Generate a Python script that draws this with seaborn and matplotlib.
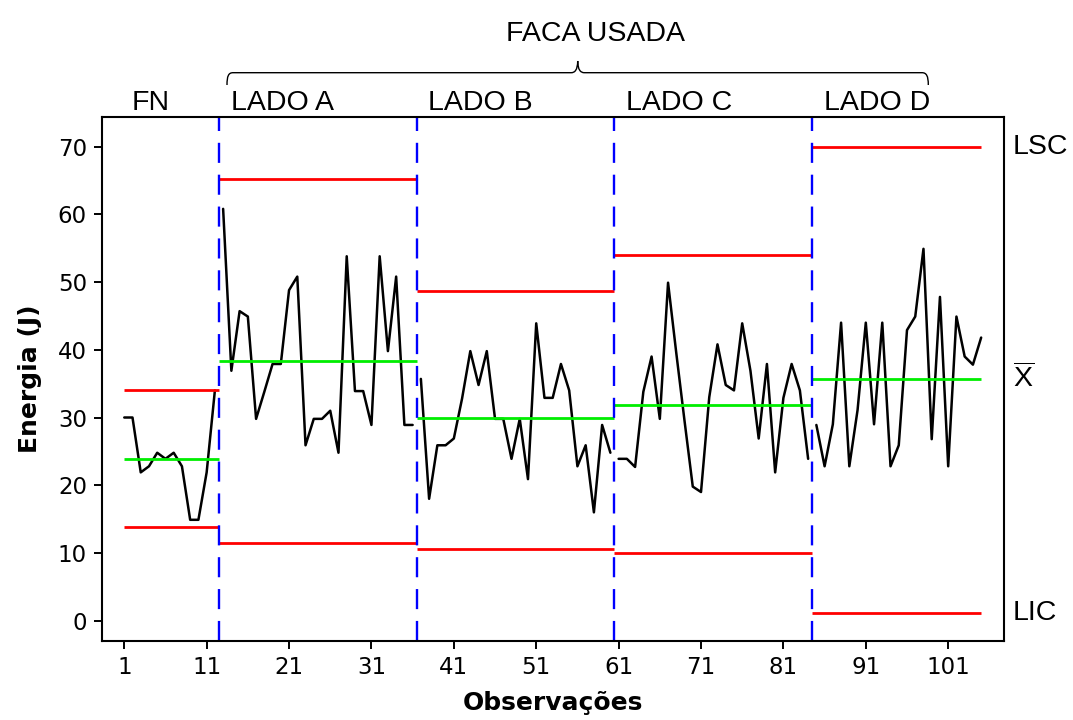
import numpy as np
import pandas as pd
import matplotlib
matplotlib.use("Agg")
import matplotlib.pyplot as plt
import matplotlib.transforms as mtransforms
from matplotlib.path import Path
from matplotlib.patches import PathPatch
import seaborn as sns

# ---------------- data ----------------
groups = ["FN", "LADO A", "LADO B", "LADO C", "LADO D"]
fn = [30.0, 30.0, 21.9, 22.8, 24.8, 23.9, 24.8, 22.8, 14.9, 14.9, 21.9, 34.0]
lado_a = [60.8, 36.9, 45.7, 44.9, 29.8, 33.8, 37.9, 37.9, 48.8, 50.8, 25.9, 29.8,
          29.8, 31.0, 24.8, 53.8, 33.9, 33.9, 28.9, 53.8, 39.8, 50.8, 28.9, 28.9]
lado_b = [35.7, 18.0, 25.9, 25.9, 26.9, 32.8, 39.8, 34.8, 39.8, 29.8, 29.8, 23.9,
          29.8, 20.9, 43.9, 32.9, 32.9, 37.9, 34.0, 22.8, 25.9, 16.0, 28.9, 24.8]
lado_c = [23.9, 23.9, 22.7, 33.8, 39.0, 29.8, 49.9, 39.5, 29.5, 19.8, 19.0, 33.0,
          40.8, 34.8, 34.0, 43.9, 36.9, 26.9, 37.9, 21.9, 32.9, 37.9, 34.0, 23.9]
lado_d = [28.9, 22.8, 29.0, 44.0, 22.8, 31.1, 44.0, 29.0, 44.0, 22.8, 25.9, 42.9,
          44.9, 54.9, 26.8, 47.8, 22.8, 44.9, 39.0, 37.8, 41.8]
lsc = [34.0, 65.2, 48.7, 54.0, 70.0]     # upper control limit per group
media = [23.9, 38.4, 30.0, 31.9, 35.7]   # centre line per group
lic = [13.9, 11.5, 10.6, 10.0, 1.2]      # lower control limit per group
x_ticks = [1, 11, 21, 31, 41, 51, 61, 71, 81, 91, 101]
y_ticks = [0, 10, 20, 30, 40, 50, 60, 70]
right_labels = ["LSC", r"$\overline{\mathrm{X}}$", "LIC"]
top_title = "FACA USADA"

# ---------------- build frame ----------------
series = [fn, lado_a, lado_b, lado_c, lado_d]
rows = []
n = 1
for g, vals in zip(groups, series):
    for v in vals:
        rows.append((n, v, g))
        n += 1
df = pd.DataFrame(rows, columns=["obs", "energia", "grupo"])
first = df.groupby("grupo", sort=False)["obs"].min().tolist()
last = df.groupby("grupo", sort=False)["obs"].max().tolist()

# ---------------- style ----------------
sns.set_theme(style="ticks")
plt.rcParams["font.family"] = ["DejaVu Sans"]
plt.rcParams["text.color"] = "black"
plt.rcParams["axes.labelcolor"] = "black"
plt.rcParams["xtick.color"] = "black"
plt.rcParams["ytick.color"] = "black"
plt.rcParams["mathtext.fontset"] = "custom"
plt.rcParams["mathtext.rm"] = "Liberation Sans"
plt.rcParams["mathtext.it"] = "Liberation Sans:italic"
plt.rcParams["mathtext.bf"] = "Liberation Sans:bold"

fig = plt.figure(figsize=(10.73, 7.2), dpi=100)
ax = fig.add_axes([0.0953, 0.1101, 0.8406, 0.7278])

sns.lineplot(data=df, x="obs", y="energia", units="grupo", estimator=None,
             color="black", linewidth=1.8, ax=ax)

RED, GREEN, BLUE = "#FF0000", "#00EE00", "#0000FF"
for i in range(len(groups)):
    x0 = first[i] if i == 0 else first[i] - 0.5
    x1 = last[i] if i == len(groups) - 1 else last[i] + 0.5
    ax.hlines(lsc[i], x0, x1, color=RED, linewidth=2.0)
    ax.hlines(media[i], x0, x1, color=GREEN, linewidth=2.0)
    ax.hlines(lic[i], x0, x1, color=RED, linewidth=2.0)

for i in range(1, len(groups)):
    ax.axvline(first[i] - 0.5, color=BLUE, linewidth=1.7,
               linestyle=(0, (8.5, 5.0)))

ax.set_xlim(-1.67, 107.8)
ax.set_ylim(-2.95, 74.4)
ax.set_xticks(x_ticks)
ax.set_yticks(y_ticks)
ax.tick_params(axis="both", labelsize=16.5, length=5.5, width=1.4, pad=5.5,
               direction="out", colors="black", top=False, right=False)
for s in ax.spines.values():
    s.set_visible(True)
    s.set_linewidth(1.5)
    s.set_color("black")

ax.set_xlabel("Observações", fontsize=18, fontweight="bold", color="black")
ax.set_ylabel("Energia (J)", fontsize=18, fontweight="bold", color="black")
ax.xaxis.set_label_coords(0.5, -0.096)
ax.yaxis.set_label_coords(-0.067, 0.5)

# group labels above the plot
trans_top = mtransforms.blended_transform_factory(ax.transData, fig.transFigure)
for i, g in enumerate(groups):
    ax.text(first[i] - 0.5 + 1.4, 1 - 110.5 / 720, g, transform=trans_top,
            ha="left", va="baseline", fontsize=20.5, family="Liberation Sans",
            color="black", clip_on=False)

# right-side labels
trans_right = mtransforms.blended_transform_factory(ax.transAxes, ax.transData)
for lab, yv in zip(right_labels, [lsc[-1], media[-1], lic[-1]]):
    ax.text(1.0097, yv, lab, transform=trans_right, ha="left", va="center",
            fontsize=20.5, family="Liberation Sans", color="black", clip_on=False)

# brace
px = mtransforms.Affine2D().scale(1 / 1073, -1 / 720).translate(0, 1) + fig.transFigure
yb = 72.7
verts = [(227, 85), (227, 76), (228.5, yb), (233, yb),
         (571, yb),
         (575, yb), (577.5, 70), (577.7, 61),
         (577.9, 70), (580.5, yb), (584.5, yb),
         (922, yb),
         (926.5, yb), (928.3, 76), (928.3, 85)]
codes = [Path.MOVETO, Path.CURVE4, Path.CURVE4, Path.CURVE4,
         Path.LINETO,
         Path.CURVE4, Path.CURVE4, Path.CURVE4,
         Path.CURVE4, Path.CURVE4, Path.CURVE4,
         Path.LINETO,
         Path.CURVE4, Path.CURVE4, Path.CURVE4]
fig.patches.append(PathPatch(Path(verts, codes), transform=px, fill=False,
                             edgecolor="black", linewidth=1.0))
fig.text(595.5 / 1073, 1 - 40.7 / 720, top_title, ha="center", va="baseline",
         fontsize=20.5, family="Liberation Sans", color="black")

fig.savefig("out.png", dpi=100)
